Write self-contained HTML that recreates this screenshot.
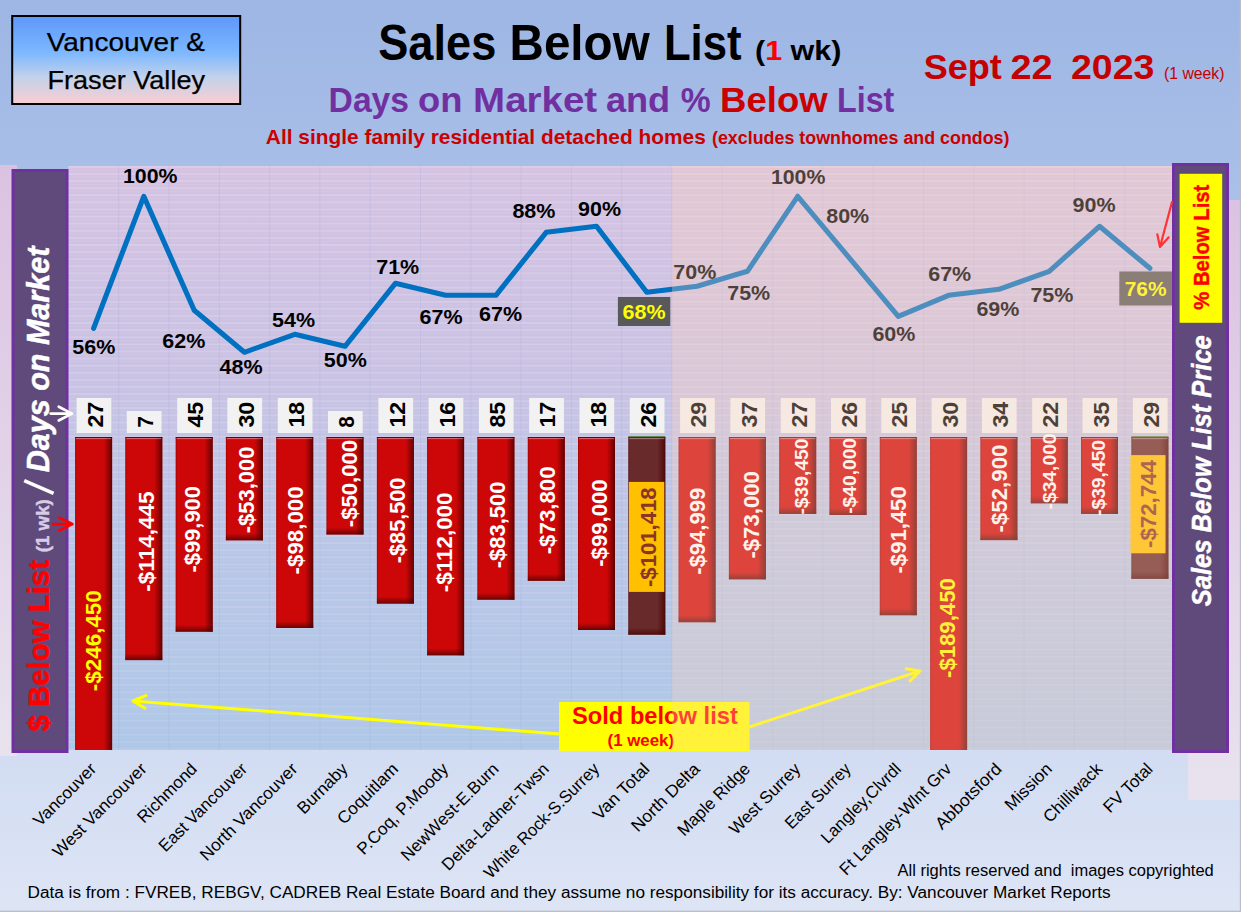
<!DOCTYPE html>
<html><head><meta charset="utf-8"><title>Sales Below List</title>
<style>html,body{margin:0;padding:0;background:#a3b9e6;overflow:hidden;}svg{display:block;}text{font-family:"Liberation Sans",sans-serif;}.b{font-weight:bold;}.i{font-style:italic;}</style></head><body>
<svg width="1241" height="912" viewBox="0 0 1241 912">
<defs>
<linearGradient id="bg" x1="0" y1="0" x2="0" y2="1"><stop offset="0" stop-color="#9eb6e4"/><stop offset="0.2" stop-color="#a8bfe8"/><stop offset="0.82" stop-color="#d2dcf2"/><stop offset="1" stop-color="#dde5f5"/></linearGradient>
<linearGradient id="plot" x1="0" y1="0" x2="0" y2="1"><stop offset="0" stop-color="#d5c2e2"/><stop offset="0.35" stop-color="#cac2e4"/><stop offset="0.6" stop-color="#bbc6e7"/><stop offset="1" stop-color="#afc8e7"/></linearGradient>
<linearGradient id="side" x1="0" y1="0" x2="0" y2="1"><stop offset="0" stop-color="#dcc2e2"/><stop offset="1" stop-color="#e8e2ee"/></linearGradient>
<linearGradient id="tbox" x1="0" y1="0" x2="0" y2="1"><stop offset="0" stop-color="#5e97fa"/><stop offset="0.42" stop-color="#7db8ff"/><stop offset="0.7" stop-color="#c3d2ea"/><stop offset="1" stop-color="#facdd2"/></linearGradient>
<linearGradient id="shR" x1="0" y1="0" x2="1" y2="0"><stop offset="0" stop-color="#500000" stop-opacity="0.35"/><stop offset="0.05" stop-color="#500000" stop-opacity="0"/><stop offset="0.78" stop-color="#500000" stop-opacity="0"/><stop offset="0.9" stop-color="#500000" stop-opacity="0.45"/><stop offset="1" stop-color="#400000" stop-opacity="0.8"/></linearGradient>
<linearGradient id="shB" x1="0" y1="0" x2="0" y2="1"><stop offset="0" stop-color="#500000" stop-opacity="0"/><stop offset="1" stop-color="#400000" stop-opacity="0.7"/></linearGradient>
<pattern id="hl" x="0" y="166" width="8" height="7.1" patternUnits="userSpaceOnUse"><rect x="0" y="0" width="8" height="1.8" fill="#fff4fa" fill-opacity="0.20"/><rect x="0" y="3.6" width="8" height="1.0" fill="#fff4fa" fill-opacity="0.08"/></pattern>
<linearGradient id="fadeg" x1="0" y1="0" x2="0" y2="1"><stop offset="0" stop-color="#fff"/><stop offset="0.45" stop-color="#ddd"/><stop offset="1" stop-color="#777"/></linearGradient>
<mask id="fade" maskUnits="userSpaceOnUse" x="0" y="166" width="1241" height="584.0"><rect x="0" y="166" width="1241" height="584.0" fill="url(#fadeg)"/></mask>
</defs>
<rect x="0" y="0" width="1241" height="912" fill="url(#bg)"/>
<rect x="0" y="165" width="17" height="591" fill="url(#side)"/>
<rect x="1188" y="200" width="53" height="600" fill="url(#side)"/>
<rect x="1229" y="200" width="12" height="600" fill="url(#side)"/>
<rect x="68.4" y="166" width="1103.6" height="584.0" fill="url(#plot)"/>
<rect x="68.4" y="166" width="1103.6" height="584.0" fill="url(#hl)" mask="url(#fade)"/>
<rect x="118.2" y="166" width="1" height="584.0" fill="#9aa8e0" fill-opacity="0.22"/>
<rect x="168.5" y="166" width="1" height="584.0" fill="#9aa8e0" fill-opacity="0.22"/>
<rect x="218.8" y="166" width="1" height="584.0" fill="#9aa8e0" fill-opacity="0.22"/>
<rect x="269.1" y="166" width="1" height="584.0" fill="#9aa8e0" fill-opacity="0.22"/>
<rect x="319.4" y="166" width="1" height="584.0" fill="#9aa8e0" fill-opacity="0.22"/>
<rect x="369.7" y="166" width="1" height="584.0" fill="#9aa8e0" fill-opacity="0.22"/>
<rect x="420.0" y="166" width="1" height="584.0" fill="#9aa8e0" fill-opacity="0.22"/>
<rect x="470.3" y="166" width="1" height="584.0" fill="#9aa8e0" fill-opacity="0.22"/>
<rect x="520.6" y="166" width="1" height="584.0" fill="#9aa8e0" fill-opacity="0.22"/>
<rect x="570.9" y="166" width="1" height="584.0" fill="#9aa8e0" fill-opacity="0.22"/>
<rect x="621.2" y="166" width="1" height="584.0" fill="#9aa8e0" fill-opacity="0.22"/>
<rect x="671.5" y="166" width="1" height="584.0" fill="#9aa8e0" fill-opacity="0.22"/>
<rect x="721.8" y="166" width="1" height="584.0" fill="#9aa8e0" fill-opacity="0.22"/>
<rect x="772.1" y="166" width="1" height="584.0" fill="#9aa8e0" fill-opacity="0.22"/>
<rect x="822.4" y="166" width="1" height="584.0" fill="#9aa8e0" fill-opacity="0.22"/>
<rect x="872.7" y="166" width="1" height="584.0" fill="#9aa8e0" fill-opacity="0.22"/>
<rect x="923.0" y="166" width="1" height="584.0" fill="#9aa8e0" fill-opacity="0.22"/>
<rect x="973.3" y="166" width="1" height="584.0" fill="#9aa8e0" fill-opacity="0.22"/>
<rect x="1023.6" y="166" width="1" height="584.0" fill="#9aa8e0" fill-opacity="0.22"/>
<rect x="1073.9" y="166" width="1" height="584.0" fill="#9aa8e0" fill-opacity="0.22"/>
<rect x="1124.2" y="166" width="1" height="584.0" fill="#9aa8e0" fill-opacity="0.22"/>
<rect x="75.1" y="437.0" width="37.0" height="313.0" fill="#cd0707"/>
<rect x="75.1" y="437.0" width="37.0" height="313.0" fill="url(#shR)"/>
<rect x="75.1" y="437.0" width="37.0" height="1" fill="#300000" fill-opacity="0.6"/>
<rect x="76.1" y="438.2" width="35.0" height="0.9" fill="#ffffff" fill-opacity="0.45"/>
<rect x="125.3" y="437.0" width="37.0" height="223.1" fill="#cd0707"/>
<rect x="125.3" y="437.0" width="37.0" height="223.1" fill="url(#shR)"/>
<rect x="125.3" y="653.1" width="37.0" height="7" fill="url(#shB)"/>
<rect x="125.3" y="437.0" width="37.0" height="1" fill="#300000" fill-opacity="0.6"/>
<rect x="126.3" y="438.2" width="35.0" height="0.9" fill="#ffffff" fill-opacity="0.45"/>
<rect x="175.7" y="437.0" width="37.0" height="194.7" fill="#cd0707"/>
<rect x="175.7" y="437.0" width="37.0" height="194.7" fill="url(#shR)"/>
<rect x="175.7" y="624.7" width="37.0" height="7" fill="url(#shB)"/>
<rect x="175.7" y="437.0" width="37.0" height="1" fill="#300000" fill-opacity="0.6"/>
<rect x="176.7" y="438.2" width="35.0" height="0.9" fill="#ffffff" fill-opacity="0.45"/>
<rect x="225.9" y="437.0" width="37.0" height="103.3" fill="#cd0707"/>
<rect x="225.9" y="437.0" width="37.0" height="103.3" fill="url(#shR)"/>
<rect x="225.9" y="533.3" width="37.0" height="7" fill="url(#shB)"/>
<rect x="225.9" y="437.0" width="37.0" height="1" fill="#300000" fill-opacity="0.6"/>
<rect x="226.9" y="438.2" width="35.0" height="0.9" fill="#ffffff" fill-opacity="0.45"/>
<rect x="276.2" y="437.0" width="37.0" height="191.0" fill="#cd0707"/>
<rect x="276.2" y="437.0" width="37.0" height="191.0" fill="url(#shR)"/>
<rect x="276.2" y="621.0" width="37.0" height="7" fill="url(#shB)"/>
<rect x="276.2" y="437.0" width="37.0" height="1" fill="#300000" fill-opacity="0.6"/>
<rect x="277.2" y="438.2" width="35.0" height="0.9" fill="#ffffff" fill-opacity="0.45"/>
<rect x="326.5" y="437.0" width="37.0" height="97.5" fill="#cd0707"/>
<rect x="326.5" y="437.0" width="37.0" height="97.5" fill="url(#shR)"/>
<rect x="326.5" y="527.5" width="37.0" height="7" fill="url(#shB)"/>
<rect x="326.5" y="437.0" width="37.0" height="1" fill="#300000" fill-opacity="0.6"/>
<rect x="327.5" y="438.2" width="35.0" height="0.9" fill="#ffffff" fill-opacity="0.45"/>
<rect x="376.9" y="437.0" width="37.0" height="166.6" fill="#cd0707"/>
<rect x="376.9" y="437.0" width="37.0" height="166.6" fill="url(#shR)"/>
<rect x="376.9" y="596.6" width="37.0" height="7" fill="url(#shB)"/>
<rect x="376.9" y="437.0" width="37.0" height="1" fill="#300000" fill-opacity="0.6"/>
<rect x="377.9" y="438.2" width="35.0" height="0.9" fill="#ffffff" fill-opacity="0.45"/>
<rect x="427.1" y="437.0" width="37.0" height="218.3" fill="#cd0707"/>
<rect x="427.1" y="437.0" width="37.0" height="218.3" fill="url(#shR)"/>
<rect x="427.1" y="648.3" width="37.0" height="7" fill="url(#shB)"/>
<rect x="427.1" y="437.0" width="37.0" height="1" fill="#300000" fill-opacity="0.6"/>
<rect x="428.1" y="438.2" width="35.0" height="0.9" fill="#ffffff" fill-opacity="0.45"/>
<rect x="477.4" y="437.0" width="37.0" height="162.7" fill="#cd0707"/>
<rect x="477.4" y="437.0" width="37.0" height="162.7" fill="url(#shR)"/>
<rect x="477.4" y="592.7" width="37.0" height="7" fill="url(#shB)"/>
<rect x="477.4" y="437.0" width="37.0" height="1" fill="#300000" fill-opacity="0.6"/>
<rect x="478.4" y="438.2" width="35.0" height="0.9" fill="#ffffff" fill-opacity="0.45"/>
<rect x="527.8" y="437.0" width="37.0" height="143.8" fill="#cd0707"/>
<rect x="527.8" y="437.0" width="37.0" height="143.8" fill="url(#shR)"/>
<rect x="527.8" y="573.8" width="37.0" height="7" fill="url(#shB)"/>
<rect x="527.8" y="437.0" width="37.0" height="1" fill="#300000" fill-opacity="0.6"/>
<rect x="528.8" y="438.2" width="35.0" height="0.9" fill="#ffffff" fill-opacity="0.45"/>
<rect x="578.0" y="437.0" width="37.0" height="193.0" fill="#cd0707"/>
<rect x="578.0" y="437.0" width="37.0" height="193.0" fill="url(#shR)"/>
<rect x="578.0" y="623.0" width="37.0" height="7" fill="url(#shB)"/>
<rect x="578.0" y="437.0" width="37.0" height="1" fill="#300000" fill-opacity="0.6"/>
<rect x="579.0" y="438.2" width="35.0" height="0.9" fill="#ffffff" fill-opacity="0.45"/>
<rect x="628.3" y="437.0" width="37.0" height="197.7" fill="#682a2a"/>
<rect x="628.3" y="437.0" width="37.0" height="197.7" fill="url(#shR)"/>
<rect x="628.3" y="627.7" width="37.0" height="7" fill="url(#shB)"/>
<rect x="628.3" y="437.0" width="37.0" height="1" fill="#300000" fill-opacity="0.6"/>
<rect x="629.3" y="438.2" width="35.0" height="0.9" fill="#ffffff" fill-opacity="0.45"/>
<rect x="678.6" y="437.0" width="37.0" height="185.2" fill="#cd0707"/>
<rect x="678.6" y="437.0" width="37.0" height="185.2" fill="url(#shR)"/>
<rect x="678.6" y="615.2" width="37.0" height="7" fill="url(#shB)"/>
<rect x="678.6" y="437.0" width="37.0" height="1" fill="#300000" fill-opacity="0.6"/>
<rect x="679.6" y="438.2" width="35.0" height="0.9" fill="#ffffff" fill-opacity="0.45"/>
<rect x="728.9" y="437.0" width="37.0" height="142.3" fill="#cd0707"/>
<rect x="728.9" y="437.0" width="37.0" height="142.3" fill="url(#shR)"/>
<rect x="728.9" y="572.3" width="37.0" height="7" fill="url(#shB)"/>
<rect x="728.9" y="437.0" width="37.0" height="1" fill="#300000" fill-opacity="0.6"/>
<rect x="729.9" y="438.2" width="35.0" height="0.9" fill="#ffffff" fill-opacity="0.45"/>
<rect x="779.2" y="437.0" width="37.0" height="76.9" fill="#cd0707"/>
<rect x="779.2" y="437.0" width="37.0" height="76.9" fill="url(#shR)"/>
<rect x="779.2" y="506.9" width="37.0" height="7" fill="url(#shB)"/>
<rect x="779.2" y="437.0" width="37.0" height="1" fill="#300000" fill-opacity="0.6"/>
<rect x="780.2" y="438.2" width="35.0" height="0.9" fill="#ffffff" fill-opacity="0.45"/>
<rect x="829.5" y="437.0" width="37.0" height="78.0" fill="#cd0707"/>
<rect x="829.5" y="437.0" width="37.0" height="78.0" fill="url(#shR)"/>
<rect x="829.5" y="508.0" width="37.0" height="7" fill="url(#shB)"/>
<rect x="829.5" y="437.0" width="37.0" height="1" fill="#300000" fill-opacity="0.6"/>
<rect x="830.5" y="438.2" width="35.0" height="0.9" fill="#ffffff" fill-opacity="0.45"/>
<rect x="879.8" y="437.0" width="37.0" height="178.2" fill="#cd0707"/>
<rect x="879.8" y="437.0" width="37.0" height="178.2" fill="url(#shR)"/>
<rect x="879.8" y="608.2" width="37.0" height="7" fill="url(#shB)"/>
<rect x="879.8" y="437.0" width="37.0" height="1" fill="#300000" fill-opacity="0.6"/>
<rect x="880.8" y="438.2" width="35.0" height="0.9" fill="#ffffff" fill-opacity="0.45"/>
<rect x="930.1" y="437.0" width="37.0" height="313.0" fill="#cd0707"/>
<rect x="930.1" y="437.0" width="37.0" height="313.0" fill="url(#shR)"/>
<rect x="930.1" y="437.0" width="37.0" height="1" fill="#300000" fill-opacity="0.6"/>
<rect x="931.1" y="438.2" width="35.0" height="0.9" fill="#ffffff" fill-opacity="0.45"/>
<rect x="980.4" y="437.0" width="37.0" height="103.1" fill="#cd0707"/>
<rect x="980.4" y="437.0" width="37.0" height="103.1" fill="url(#shR)"/>
<rect x="980.4" y="533.1" width="37.0" height="7" fill="url(#shB)"/>
<rect x="980.4" y="437.0" width="37.0" height="1" fill="#300000" fill-opacity="0.6"/>
<rect x="981.4" y="438.2" width="35.0" height="0.9" fill="#ffffff" fill-opacity="0.45"/>
<rect x="1030.8" y="437.0" width="37.0" height="66.3" fill="#cd0707"/>
<rect x="1030.8" y="437.0" width="37.0" height="66.3" fill="url(#shR)"/>
<rect x="1030.8" y="496.3" width="37.0" height="7" fill="url(#shB)"/>
<rect x="1030.8" y="437.0" width="37.0" height="1" fill="#300000" fill-opacity="0.6"/>
<rect x="1031.8" y="438.2" width="35.0" height="0.9" fill="#ffffff" fill-opacity="0.45"/>
<rect x="1081.0" y="437.0" width="37.0" height="76.9" fill="#cd0707"/>
<rect x="1081.0" y="437.0" width="37.0" height="76.9" fill="url(#shR)"/>
<rect x="1081.0" y="506.9" width="37.0" height="7" fill="url(#shB)"/>
<rect x="1081.0" y="437.0" width="37.0" height="1" fill="#300000" fill-opacity="0.6"/>
<rect x="1082.0" y="438.2" width="35.0" height="0.9" fill="#ffffff" fill-opacity="0.45"/>
<rect x="1131.4" y="437.0" width="37.0" height="141.8" fill="#682a2a"/>
<rect x="1131.4" y="437.0" width="37.0" height="141.8" fill="url(#shR)"/>
<rect x="1131.4" y="571.8" width="37.0" height="7" fill="url(#shB)"/>
<rect x="1131.4" y="437.0" width="37.0" height="1" fill="#300000" fill-opacity="0.6"/>
<rect x="1132.4" y="438.2" width="35.0" height="0.9" fill="#ffffff" fill-opacity="0.45"/>
<rect x="628.3" y="436.2" width="37.0" height="1.1" fill="#4f7a28"/>
<rect x="1131.4" y="436.2" width="37.0" height="1.1" fill="#4f7a28"/>
<rect x="628.9" y="481.9" width="35.4" height="110" fill="#ffc000"/>
<rect x="1130.5" y="455.1" width="35.0" height="98.2" fill="#ffc000"/>
<text class="b" transform="translate(101.1,691.2) rotate(-90)" font-size="21.8" fill="#ffff00" textLength="101.0" lengthAdjust="spacingAndGlyphs">-$246,450</text>
<text class="b" transform="translate(153.8,591.7) rotate(-90)" font-size="21.8" fill="#ffffff" textLength="100.3" lengthAdjust="spacingAndGlyphs">-$114,445</text>
<text class="b" transform="translate(200.2,572.6) rotate(-90)" font-size="21.8" fill="#ffffff" textLength="86.6" lengthAdjust="spacingAndGlyphs">-$99,900</text>
<text class="b" transform="translate(254.1,533.2) rotate(-90)" font-size="21.8" fill="#ffffff" textLength="86.7" lengthAdjust="spacingAndGlyphs">-$53,000</text>
<text class="b" transform="translate(302.6,574.4) rotate(-90)" font-size="21.8" fill="#ffffff" textLength="88.0" lengthAdjust="spacingAndGlyphs">-$98,000</text>
<text class="b" transform="translate(356.6,527.2) rotate(-90)" font-size="21.8" fill="#ffffff" textLength="87.2" lengthAdjust="spacingAndGlyphs">-$50,000</text>
<text class="b" transform="translate(405.2,563.2) rotate(-90)" font-size="21.8" fill="#ffffff" textLength="85.6" lengthAdjust="spacingAndGlyphs">-$85,500</text>
<text class="b" transform="translate(451.9,592.3) rotate(-90)" font-size="21.8" fill="#ffffff" textLength="99.9" lengthAdjust="spacingAndGlyphs">-$112,000</text>
<text class="b" transform="translate(505.4,568.3) rotate(-90)" font-size="21.8" fill="#ffffff" textLength="86.9" lengthAdjust="spacingAndGlyphs">-$83,500</text>
<text class="b" transform="translate(555.2,554.3) rotate(-90)" font-size="21.8" fill="#ffffff" textLength="87.9" lengthAdjust="spacingAndGlyphs">-$73,800</text>
<text class="b" transform="translate(606.9,566.8) rotate(-90)" font-size="21.8" fill="#ffffff" textLength="87.4" lengthAdjust="spacingAndGlyphs">-$99,000</text>
<text class="b" transform="translate(655.8,587.0) rotate(-90)" font-size="21.8" fill="#8a3626" textLength="99.6" lengthAdjust="spacingAndGlyphs">-$101,418</text>
<text class="b" transform="translate(704.9,574.7) rotate(-90)" font-size="21.8" fill="#ffffff" textLength="86.9" lengthAdjust="spacingAndGlyphs">-$94,999</text>
<text class="b" transform="translate(758.7,558.6) rotate(-90)" font-size="21.8" fill="#ffffff" textLength="87.5" lengthAdjust="spacingAndGlyphs">-$73,000</text>
<text class="b" transform="translate(807.5,514.6) rotate(-90)" font-size="19.0" fill="#ffffff" textLength="76.2" lengthAdjust="spacingAndGlyphs">-$39,450</text>
<text class="b" transform="translate(856.3,513.8) rotate(-90)" font-size="19.0" fill="#ffffff" textLength="75.8" lengthAdjust="spacingAndGlyphs">-$40,000</text>
<text class="b" transform="translate(905.5,573.5) rotate(-90)" font-size="21.8" fill="#ffffff" textLength="87.2" lengthAdjust="spacingAndGlyphs">-$91,450</text>
<text class="b" transform="translate(955.2,678.0) rotate(-90)" font-size="21.8" fill="#ffff00" textLength="99.8" lengthAdjust="spacingAndGlyphs">-$189,450</text>
<text class="b" transform="translate(1006.9,532.5) rotate(-90)" font-size="21.8" fill="#ffffff" textLength="88.0" lengthAdjust="spacingAndGlyphs">-$52,900</text>
<text class="b" transform="translate(1056.3,509.5) rotate(-90)" font-size="19.0" fill="#ffffff" textLength="76.1" lengthAdjust="spacingAndGlyphs">-$34,000</text>
<text class="b" transform="translate(1104.5,516.0) rotate(-90)" font-size="19.0" fill="#ffffff" textLength="76.1" lengthAdjust="spacingAndGlyphs">-$39,450</text>
<text class="b" transform="translate(1155.6,547.9) rotate(-90)" font-size="21.8" fill="#8a3626" textLength="87.7" lengthAdjust="spacingAndGlyphs">-$72,744</text>
<rect x="76.6" y="398.0" width="34.7" height="35.0" fill="#f2f2f2"/>
<text class="b" transform="translate(102.7,427.6) rotate(-90)" font-size="21.5" fill="#000" textLength="25.8" lengthAdjust="spacingAndGlyphs">27</text>
<rect x="126.8" y="411.0" width="34.7" height="22.0" fill="#f2f2f2"/>
<text class="b" transform="translate(152.9,427.8) rotate(-90)" font-size="21.5" fill="#000" textLength="11.6" lengthAdjust="spacingAndGlyphs">7</text>
<rect x="177.2" y="398.0" width="34.7" height="35.0" fill="#f2f2f2"/>
<text class="b" transform="translate(203.2,427.6) rotate(-90)" font-size="21.5" fill="#000" textLength="25.8" lengthAdjust="spacingAndGlyphs">45</text>
<rect x="227.4" y="398.0" width="34.7" height="35.0" fill="#f2f2f2"/>
<text class="b" transform="translate(253.5,427.6) rotate(-90)" font-size="21.5" fill="#000" textLength="25.8" lengthAdjust="spacingAndGlyphs">30</text>
<rect x="277.8" y="398.0" width="34.7" height="35.0" fill="#f2f2f2"/>
<text class="b" transform="translate(303.9,427.6) rotate(-90)" font-size="21.5" fill="#000" textLength="25.8" lengthAdjust="spacingAndGlyphs">18</text>
<rect x="328.0" y="411.0" width="34.7" height="22.0" fill="#f2f2f2"/>
<text class="b" transform="translate(354.1,427.8) rotate(-90)" font-size="21.5" fill="#000" textLength="11.6" lengthAdjust="spacingAndGlyphs">8</text>
<rect x="378.4" y="398.0" width="34.7" height="35.0" fill="#f2f2f2"/>
<text class="b" transform="translate(404.5,427.6) rotate(-90)" font-size="21.5" fill="#000" textLength="25.8" lengthAdjust="spacingAndGlyphs">12</text>
<rect x="428.6" y="398.0" width="34.7" height="35.0" fill="#f2f2f2"/>
<text class="b" transform="translate(454.8,427.6) rotate(-90)" font-size="21.5" fill="#000" textLength="25.8" lengthAdjust="spacingAndGlyphs">16</text>
<rect x="478.9" y="398.0" width="34.7" height="35.0" fill="#f2f2f2"/>
<text class="b" transform="translate(505.0,427.6) rotate(-90)" font-size="21.5" fill="#000" textLength="25.8" lengthAdjust="spacingAndGlyphs">85</text>
<rect x="529.2" y="398.0" width="34.7" height="35.0" fill="#f2f2f2"/>
<text class="b" transform="translate(555.4,427.6) rotate(-90)" font-size="21.5" fill="#000" textLength="25.8" lengthAdjust="spacingAndGlyphs">17</text>
<rect x="579.5" y="398.0" width="34.7" height="35.0" fill="#f2f2f2"/>
<text class="b" transform="translate(605.6,427.6) rotate(-90)" font-size="21.5" fill="#000" textLength="25.8" lengthAdjust="spacingAndGlyphs">18</text>
<rect x="629.8" y="398.0" width="34.7" height="35.0" fill="#f2f2f2"/>
<text class="b" transform="translate(655.9,427.6) rotate(-90)" font-size="21.5" fill="#000" textLength="25.8" lengthAdjust="spacingAndGlyphs">26</text>
<rect x="680.1" y="398.0" width="34.7" height="35.0" fill="#f2f2f2"/>
<text class="b" transform="translate(706.2,427.6) rotate(-90)" font-size="21.5" fill="#000" textLength="25.8" lengthAdjust="spacingAndGlyphs">29</text>
<rect x="730.4" y="398.0" width="34.7" height="35.0" fill="#f2f2f2"/>
<text class="b" transform="translate(756.5,427.6) rotate(-90)" font-size="21.5" fill="#000" textLength="25.8" lengthAdjust="spacingAndGlyphs">37</text>
<rect x="780.7" y="398.0" width="34.7" height="35.0" fill="#f2f2f2"/>
<text class="b" transform="translate(806.8,427.6) rotate(-90)" font-size="21.5" fill="#000" textLength="25.8" lengthAdjust="spacingAndGlyphs">27</text>
<rect x="831.0" y="398.0" width="34.7" height="35.0" fill="#f2f2f2"/>
<text class="b" transform="translate(857.1,427.6) rotate(-90)" font-size="21.5" fill="#000" textLength="25.8" lengthAdjust="spacingAndGlyphs">26</text>
<rect x="881.3" y="398.0" width="34.7" height="35.0" fill="#f2f2f2"/>
<text class="b" transform="translate(907.4,427.6) rotate(-90)" font-size="21.5" fill="#000" textLength="25.8" lengthAdjust="spacingAndGlyphs">25</text>
<rect x="931.6" y="398.0" width="34.7" height="35.0" fill="#f2f2f2"/>
<text class="b" transform="translate(957.8,427.6) rotate(-90)" font-size="21.5" fill="#000" textLength="25.8" lengthAdjust="spacingAndGlyphs">30</text>
<rect x="981.9" y="398.0" width="34.7" height="35.0" fill="#f2f2f2"/>
<text class="b" transform="translate(1008.0,427.6) rotate(-90)" font-size="21.5" fill="#000" textLength="25.8" lengthAdjust="spacingAndGlyphs">34</text>
<rect x="1032.2" y="398.0" width="34.7" height="35.0" fill="#f2f2f2"/>
<text class="b" transform="translate(1058.3,427.6) rotate(-90)" font-size="21.5" fill="#000" textLength="25.8" lengthAdjust="spacingAndGlyphs">22</text>
<rect x="1082.5" y="398.0" width="34.7" height="35.0" fill="#f2f2f2"/>
<text class="b" transform="translate(1108.6,427.6) rotate(-90)" font-size="21.5" fill="#000" textLength="25.8" lengthAdjust="spacingAndGlyphs">35</text>
<rect x="1132.9" y="398.0" width="34.7" height="35.0" fill="#f2f2f2"/>
<text class="b" transform="translate(1159.0,427.6) rotate(-90)" font-size="21.5" fill="#000" textLength="25.8" lengthAdjust="spacingAndGlyphs">29</text>
<polyline points="93.6,328.3 143.8,196.3 194.2,310.3 244.4,352.3 294.8,334.3 345.0,346.3 395.4,283.3 445.6,295.3 495.9,295.3 546.2,232.3 596.5,226.3 646.8,292.3 697.1,286.3 747.4,271.3 797.7,196.3 848.0,256.3 898.3,316.3 948.6,295.3 998.9,289.3 1049.2,271.3 1099.5,226.3 1149.9,268.3" fill="none" stroke="#0070c0" stroke-width="5.1" stroke-linejoin="round" stroke-linecap="round"/>
<rect x="617.9" y="297" width="52.4" height="29" fill="#595959"/>
<rect x="1119.3" y="271.5" width="53" height="34" fill="#595959"/>
<text class="b" x="72.3" y="354.2" font-size="20.8" fill="#000000" textLength="43.0" lengthAdjust="spacingAndGlyphs">56%</text>
<text class="b" x="123.0" y="182.9" font-size="20.8" fill="#000000" textLength="54.5" lengthAdjust="spacingAndGlyphs">100%</text>
<text class="b" x="162.3" y="347.7" font-size="20.8" fill="#000000" textLength="43.0" lengthAdjust="spacingAndGlyphs">62%</text>
<text class="b" x="219.5" y="373.5" font-size="20.8" fill="#000000" textLength="43.0" lengthAdjust="spacingAndGlyphs">48%</text>
<text class="b" x="272.0" y="327.2" font-size="20.8" fill="#000000" textLength="43.0" lengthAdjust="spacingAndGlyphs">54%</text>
<text class="b" x="323.8" y="366.5" font-size="20.8" fill="#000000" textLength="43.0" lengthAdjust="spacingAndGlyphs">50%</text>
<text class="b" x="376.2" y="273.6" font-size="20.8" fill="#000000" textLength="43.0" lengthAdjust="spacingAndGlyphs">71%</text>
<text class="b" x="419.6" y="324.3" font-size="20.8" fill="#000000" textLength="43.0" lengthAdjust="spacingAndGlyphs">67%</text>
<text class="b" x="479.1" y="321.1" font-size="20.8" fill="#000000" textLength="43.0" lengthAdjust="spacingAndGlyphs">67%</text>
<text class="b" x="512.4" y="218.1" font-size="20.8" fill="#000000" textLength="43.0" lengthAdjust="spacingAndGlyphs">88%</text>
<text class="b" x="578.0" y="216.0" font-size="20.8" fill="#000000" textLength="43.0" lengthAdjust="spacingAndGlyphs">90%</text>
<text class="b" x="622.6" y="319.2" font-size="20.8" fill="#ffff00" textLength="43.0" lengthAdjust="spacingAndGlyphs">68%</text>
<text class="b" x="673.3" y="278.7" font-size="20.8" fill="#000000" textLength="43.0" lengthAdjust="spacingAndGlyphs">70%</text>
<text class="b" x="727.2" y="300.4" font-size="20.8" fill="#000000" textLength="43.0" lengthAdjust="spacingAndGlyphs">75%</text>
<text class="b" x="770.9" y="184.1" font-size="20.8" fill="#000000" textLength="54.5" lengthAdjust="spacingAndGlyphs">100%</text>
<text class="b" x="826.2" y="223.2" font-size="20.8" fill="#000000" textLength="43.0" lengthAdjust="spacingAndGlyphs">80%</text>
<text class="b" x="872.4" y="340.5" font-size="20.8" fill="#000000" textLength="43.0" lengthAdjust="spacingAndGlyphs">60%</text>
<text class="b" x="928.2" y="281.1" font-size="20.8" fill="#000000" textLength="43.0" lengthAdjust="spacingAndGlyphs">67%</text>
<text class="b" x="976.4" y="316.3" font-size="20.8" fill="#000000" textLength="43.0" lengthAdjust="spacingAndGlyphs">69%</text>
<text class="b" x="1030.4" y="302.3" font-size="20.8" fill="#000000" textLength="43.0" lengthAdjust="spacingAndGlyphs">75%</text>
<text class="b" x="1072.6" y="212.4" font-size="20.8" fill="#000000" textLength="43.0" lengthAdjust="spacingAndGlyphs">90%</text>
<text class="b" x="1124.7" y="296.3" font-size="20.8" fill="#ffff00" textLength="41.8" lengthAdjust="spacingAndGlyphs">76%</text>
<path d="M560.0 734.0 L133.0 701.0 M133.0 701.0 L145.9 695.6 M133.0 701.0 L144.9 708.3" fill="none" stroke="#ffff00" stroke-width="3.0" stroke-linecap="round" stroke-linejoin="round"/>
<path d="M749.0 727.0 L920.0 671.0 M920.0 671.0 L910.1 680.9 M920.0 671.0 L906.2 668.8" fill="none" stroke="#ffff00" stroke-width="3.0" stroke-linecap="round" stroke-linejoin="round"/>
<rect x="559" y="702" width="190.5" height="48.9" fill="#ffff00"/>
<text class="b" x="572" y="724" font-size="24.5" fill="#ff0000" textLength="165.8" lengthAdjust="spacingAndGlyphs">Sold below list</text>
<text class="b" x="607.6" y="745.5" font-size="16.5" fill="#ff0000" textLength="66.5" lengthAdjust="spacingAndGlyphs">(1 week)</text>
<rect x="672.0" y="166" width="500.0" height="584.0" fill="#ffd5bb" fill-opacity="0.30"/>
<rect x="13" y="170.5" width="54" height="581" fill="#604a7b" stroke="#7030a0" stroke-width="3"/>
<rect x="1173.5" y="164.5" width="54" height="587" fill="#604a7b" stroke="#7030a0" stroke-width="3"/>
<rect x="1179.6" y="173.8" width="42.6" height="149" fill="#ffff00"/>
<text class="b" transform="translate(49.1,731.5) rotate(-90)" font-size="30" fill="#ff0000" stroke="#ff0000" stroke-width="0.5" textLength="171.5" lengthAdjust="spacingAndGlyphs">$ Below List</text>
<text class="b" transform="translate(49.1,552.2) rotate(-90)" font-size="18" fill="#d8cce6" stroke="#d8cce6" stroke-width="0.4" textLength="53" lengthAdjust="spacingAndGlyphs">(1 wk)</text>
<path d="M53.6 493.4 L24.2 480.6" stroke="#ffffff" stroke-width="3.6" fill="none"/>
<text class="b i" transform="translate(48.8,472.2) rotate(-90)" font-size="30.5" fill="#ffffff" stroke="#ffffff" stroke-width="0.5" textLength="225.5" lengthAdjust="spacingAndGlyphs">Days on Market</text>
<text class="b" transform="translate(1208.6,309.7) rotate(-90)" font-size="22.8" fill="#ff0000" stroke="#ff0000" stroke-width="0.4" textLength="125" lengthAdjust="spacingAndGlyphs">% Below List</text>
<text class="b i" transform="translate(1210.6,606.2) rotate(-90)" font-size="28.5" fill="#ffffff" stroke="#ffffff" stroke-width="0.5" textLength="271" lengthAdjust="spacingAndGlyphs">Sales Below List Price</text>
<path d="M50.6 413.6 L72.0 413.6 M72.0 413.6 L58.7 420.5 M72.0 413.6 L58.7 406.7" fill="none" stroke="#ffffff" stroke-width="2.7" stroke-linecap="round" stroke-linejoin="round"/>
<path d="M52.8 524.1 L72.3 524.1 M72.3 524.1 L59.3 530.5 M72.3 524.1 L59.3 517.7" fill="none" stroke="#ff0000" stroke-width="2.8" stroke-linecap="round" stroke-linejoin="round"/>
<path d="M1172.0 202.0 L1160.0 247.0 M1160.0 247.0 L1157.3 234.3 M1160.0 247.0 L1168.7 237.3" fill="none" stroke="#ff3333" stroke-width="2.2" stroke-linecap="round" stroke-linejoin="round"/>
<rect x="12.2" y="16" width="228" height="88" fill="url(#tbox)" stroke="#000" stroke-width="2"/>
<text x="46.7" y="51.2" font-size="26.2" fill="#000" stroke="#000" stroke-width="0.25" textLength="158.3" lengthAdjust="spacingAndGlyphs">Vancouver &amp;</text>
<text x="47.5" y="88.7" font-size="26.2" fill="#000" stroke="#000" stroke-width="0.25" textLength="157.5" lengthAdjust="spacingAndGlyphs">Fraser Valley</text>
<text class="b" x="378.2" y="60" font-size="50.5" fill="#000"  textLength="118.1" lengthAdjust="spacingAndGlyphs">Sales</text>
<text class="b" x="509.5" y="60" font-size="50.5" fill="#000"  textLength="140.2" lengthAdjust="spacingAndGlyphs">Below</text>
<text class="b" x="663.9" y="60" font-size="50.5" fill="#000"  textLength="77.7" lengthAdjust="spacingAndGlyphs">List</text>
<text class="b" x="755.0" y="60" font-size="28.5" fill="#000" textLength="86.5" lengthAdjust="spacingAndGlyphs">(<tspan fill="#ff0000">1</tspan> wk)</text>
<text class="b" x="328.6" y="112.3" font-size="34.6" fill="#7030a0"  textLength="80.4" lengthAdjust="spacingAndGlyphs">Days</text>
<text class="b" x="418.0" y="112.3" font-size="34.6" fill="#7030a0"  textLength="44.4" lengthAdjust="spacingAndGlyphs">on</text>
<text class="b" x="473.1" y="112.3" font-size="34.6" fill="#7030a0"  textLength="124.0" lengthAdjust="spacingAndGlyphs">Market</text>
<text class="b" x="605.9" y="112.3" font-size="34.6" fill="#7030a0"  textLength="64.3" lengthAdjust="spacingAndGlyphs">and</text>
<text class="b" x="680.8" y="112.3" font-size="34.6" fill="#7030a0"  textLength="29.9" lengthAdjust="spacingAndGlyphs">%</text>
<text class="b" x="720.1" y="112.3" font-size="34.6" fill="#cc0000"  textLength="107.5" lengthAdjust="spacingAndGlyphs">Below</text>
<text class="b" x="837.0" y="112.3" font-size="34.6" fill="#7030a0"  textLength="57.3" lengthAdjust="spacingAndGlyphs">List</text>
<text class="b" x="265.8" y="144.4" font-size="20.4" fill="#cc0000" textLength="440" lengthAdjust="spacingAndGlyphs">All single family residential detached homes</text>
<text class="b" x="712" y="144.4" font-size="18.8" fill="#cc0000" textLength="297.5" lengthAdjust="spacingAndGlyphs">(excludes townhomes and condos)</text>
<text class="b" x="923.7" y="79.1" font-size="35.0" fill="#c40000"  textLength="78.2" lengthAdjust="spacingAndGlyphs">Sept</text>
<text class="b" x="1010.5" y="79.1" font-size="35.0" fill="#c40000"  textLength="42.1" lengthAdjust="spacingAndGlyphs">22</text>
<text class="b" x="1071.0" y="79.1" font-size="35.0" fill="#c40000"  textLength="83.4" lengthAdjust="spacingAndGlyphs">2023</text>
<text x="1164.0" y="79.1" font-size="15.6" fill="#c40000" textLength="60.4" lengthAdjust="spacingAndGlyphs">(1 week)</text>
<text transform="translate(97.4,770.0) rotate(-45)" x="-81.1" y="0" font-size="17" fill="#000" textLength="81.1" lengthAdjust="spacingAndGlyphs">Vancouver</text>
<text transform="translate(147.7,770.0) rotate(-45)" x="-124.8" y="0" font-size="17" fill="#000" textLength="124.8" lengthAdjust="spacingAndGlyphs">West Vancouver</text>
<text transform="translate(198.0,770.0) rotate(-45)" x="-76.5" y="0" font-size="17" fill="#000" textLength="76.5" lengthAdjust="spacingAndGlyphs">Richmond</text>
<text transform="translate(248.2,770.0) rotate(-45)" x="-116.9" y="0" font-size="17" fill="#000" textLength="116.9" lengthAdjust="spacingAndGlyphs">East Vancouver</text>
<text transform="translate(298.6,770.0) rotate(-45)" x="-129.8" y="0" font-size="17" fill="#000" textLength="129.8" lengthAdjust="spacingAndGlyphs">North Vancouver</text>
<text transform="translate(348.8,770.0) rotate(-45)" x="-63.5" y="0" font-size="17" fill="#000" textLength="63.5" lengthAdjust="spacingAndGlyphs">Burnaby</text>
<text transform="translate(399.2,770.0) rotate(-45)" x="-78.1" y="0" font-size="17" fill="#000" textLength="78.1" lengthAdjust="spacingAndGlyphs">Coquitlam</text>
<text transform="translate(449.4,770.0) rotate(-45)" x="-121.1" y="0" font-size="17" fill="#000" textLength="121.1" lengthAdjust="spacingAndGlyphs">P.Coq, P.Moody</text>
<text transform="translate(499.7,770.0) rotate(-45)" x="-130.0" y="0" font-size="17" fill="#000" textLength="130.0" lengthAdjust="spacingAndGlyphs">NewWest-E.Burn</text>
<text transform="translate(550.0,770.0) rotate(-45)" x="-143.4" y="0" font-size="17" fill="#000" textLength="143.4" lengthAdjust="spacingAndGlyphs">Delta-Ladner-Twsn</text>
<text transform="translate(600.3,770.0) rotate(-45)" x="-155.0" y="0" font-size="17" fill="#000" textLength="155.0" lengthAdjust="spacingAndGlyphs">White Rock-S.Surrey</text>
<text transform="translate(650.6,770.0) rotate(-45)" x="-72.0" y="0" font-size="17" fill="#000" textLength="72.0" lengthAdjust="spacingAndGlyphs">Van Total</text>
<text transform="translate(700.9,770.0) rotate(-45)" x="-88.9" y="0" font-size="17" fill="#000" textLength="88.9" lengthAdjust="spacingAndGlyphs">North Delta</text>
<text transform="translate(751.2,770.0) rotate(-45)" x="-94.8" y="0" font-size="17" fill="#000" textLength="94.8" lengthAdjust="spacingAndGlyphs">Maple Ridge</text>
<text transform="translate(801.5,770.0) rotate(-45)" x="-92.8" y="0" font-size="17" fill="#000" textLength="92.8" lengthAdjust="spacingAndGlyphs">West Surrey</text>
<text transform="translate(851.8,770.0) rotate(-45)" x="-85.0" y="0" font-size="17" fill="#000" textLength="85.0" lengthAdjust="spacingAndGlyphs">East Surrey</text>
<text transform="translate(902.1,770.0) rotate(-45)" x="-105.3" y="0" font-size="17" fill="#000" textLength="105.3" lengthAdjust="spacingAndGlyphs">Langley,Clvrdl</text>
<text transform="translate(952.4,770.0) rotate(-45)" x="-150.1" y="0" font-size="17" fill="#000" textLength="150.1" lengthAdjust="spacingAndGlyphs">Ft Langley-Wlnt Grv</text>
<text transform="translate(1002.7,770.0) rotate(-45)" x="-85.7" y="0" font-size="17" fill="#000" textLength="85.7" lengthAdjust="spacingAndGlyphs">Abbotsford</text>
<text transform="translate(1053.0,770.0) rotate(-45)" x="-58.8" y="0" font-size="17" fill="#000" textLength="58.8" lengthAdjust="spacingAndGlyphs">Mission</text>
<text transform="translate(1103.3,770.0) rotate(-45)" x="-75.5" y="0" font-size="17" fill="#000" textLength="75.5" lengthAdjust="spacingAndGlyphs">Chilliwack</text>
<text transform="translate(1153.7,770.0) rotate(-45)" x="-61.8" y="0" font-size="17" fill="#000" textLength="61.8" lengthAdjust="spacingAndGlyphs">FV Total</text>
<text x="897.5" y="875.5" font-size="16.3" fill="#000" textLength="316.3" lengthAdjust="spacingAndGlyphs" style="white-space:pre">All rights reserved and  images copyrighted</text>
<text x="27.5" y="897.6" font-size="15.8" fill="#000" textLength="1083" lengthAdjust="spacingAndGlyphs">Data is from : FVREB, REBGV, CADREB Real Estate Board and they assume no responsibility for its accuracy. By: Vancouver Market Reports</text>
<rect x="0" y="910.6" width="1241" height="1.4" fill="#bcbfc6"/>
<rect x="1239.8" y="0" width="1.2" height="912" fill="#bcbfc6"/>
</svg></body></html>
